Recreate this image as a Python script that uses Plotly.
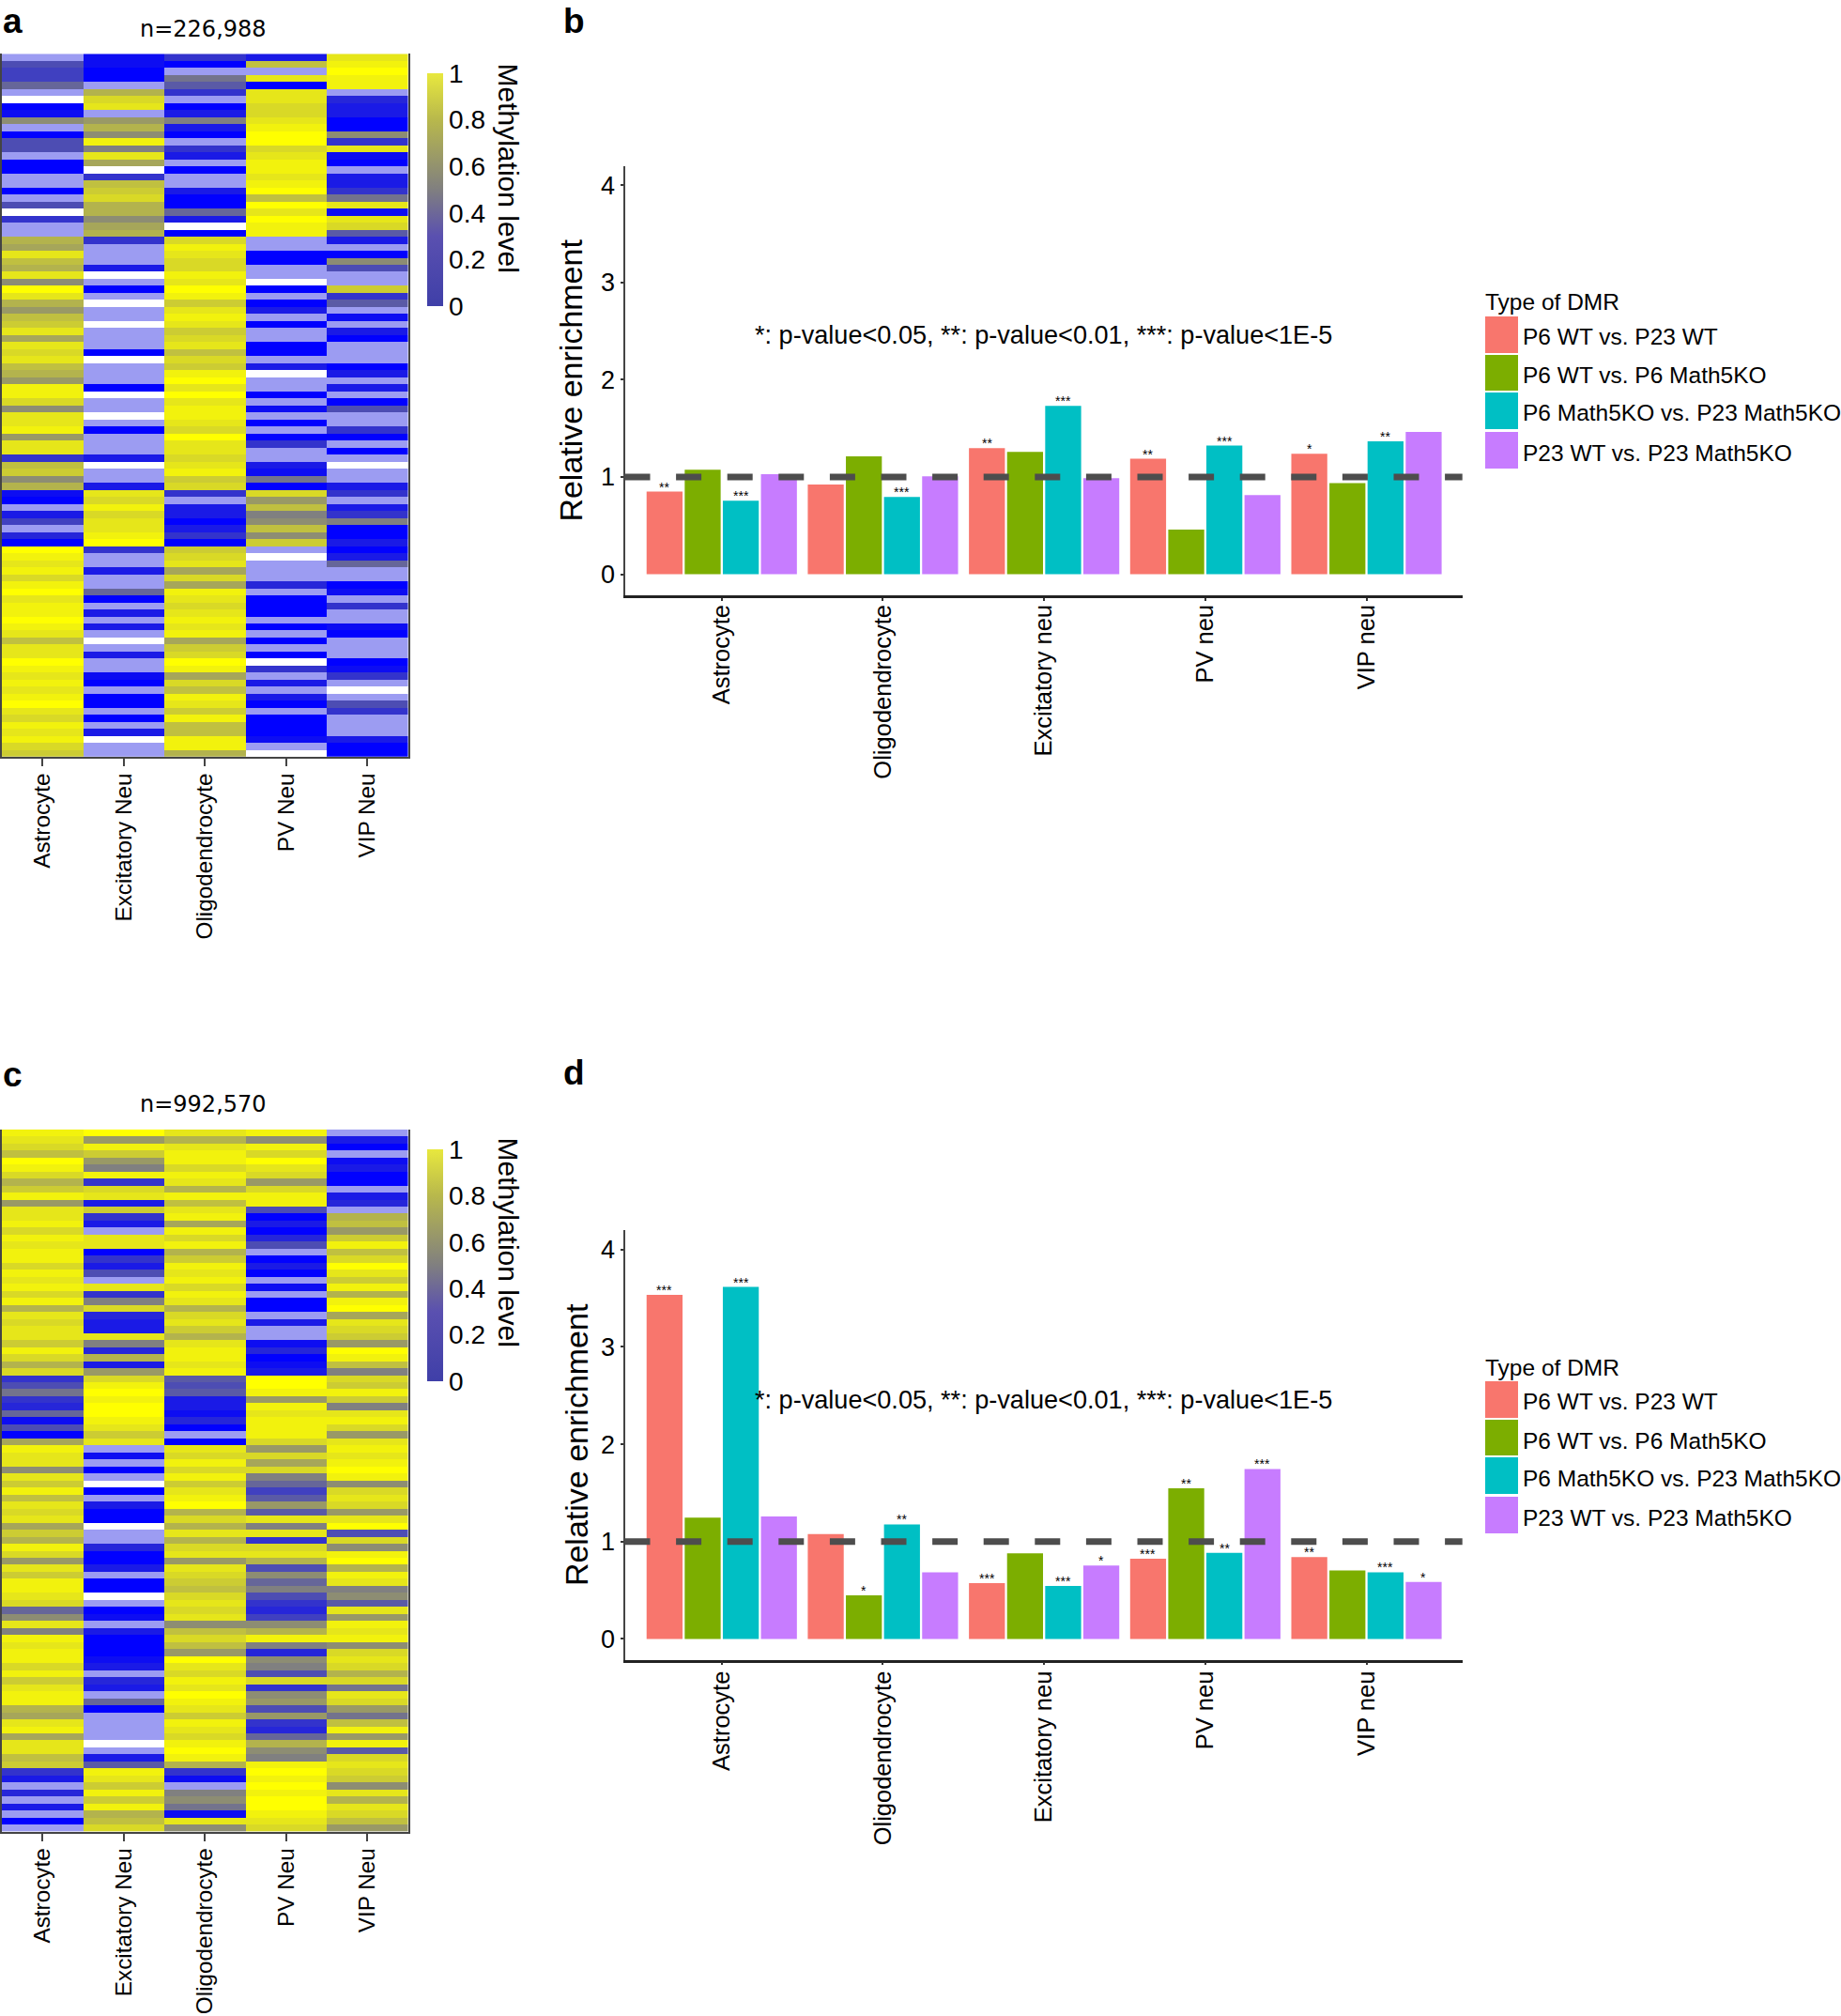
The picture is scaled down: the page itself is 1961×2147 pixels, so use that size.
import plotly.graph_objects as go

W, H = 1961, 2147
FONT = "Liberation Sans"

N = None   # unmeasured rows, drawn white
P = -0.2   # pale rows, thinly covered

heat_cells = ["Astrocyte", "Excitatory Neu", "Oligodendrocyte", "PV Neu", "VIP Neu"]
bar_cells = ["Astrocyte", "Oligodendrocyte", "Excitatory neu", "PV neu", "VIP neu"]
dmr_types = ["P6 WT vs. P23 WT", "P6 WT vs. P6 Math5KO", "P6 Math5KO vs. P23 Math5KO", "P23 WT vs. P23 Math5KO"]
dmr_colors = ["#F8766D", "#7CAE00", "#00BFC4", "#C77CFF"]
cbar_ticks = [0, 0.2, 0.4, 0.6, 0.8, 1]
cbar_labels = ["0", "0.2", "0.4", "0.6", "0.8", "1"]
p_note = "*: p-value<0.05, **: p-value<0.01, ***: p-value<1E-5"

# enrichment per DMR type, in the order of bar_cells
b_p6wt_p23wt = [0.85, 0.923, 1.297, 1.187, 1.239]
b_p6wt_p6ko = [1.075, 1.213, 1.258, 0.46, 0.936]
b_p6ko_p23ko = [0.756, 0.795, 1.73, 1.322, 1.367]
b_p23wt_p23ko = [1.03, 1.007, 0.988, 0.814, 1.464]
b_stars = [["**", "", "**", "**", "*"],
           ["", "", "", "", ""],
           ["***", "***", "***", "***", "**"],
           ["", "", "", "", ""]]

d_p6wt_p23wt = [3.534, 1.078, 0.573, 0.823, 0.84]
d_p6wt_p6ko = [1.246, 0.448, 0.879, 1.547, 0.703]
d_p6ko_p23ko = [3.616, 1.177, 0.543, 0.884, 0.685]
d_p23wt_p23ko = [1.259, 0.685, 0.754, 1.746, 0.586]
d_stars = [["***", "", "***", "***", "**"],
           ["", "*", "", "**", ""],
           ["***", "**", "***", "**", "***"],
           ["", "", "*", "***", "*"]]

# methylation per row: Astrocyte, Excitatory, Oligodendrocyte, PV, VIP
a_rows = [
    [P, .05, .2, .1, .9], [.3, .05, 0, .75, .95], [.25, 0, P, P, 1], [.25, 0, .45, .9, .95], [.4, P, .35, 0, .95],
    [P, .7, .2, .9, P], [N, .85, P, .9, .15], [0, .9, 0, .85, .1], [.05, P, .1, .85, .1], [.55, .6, .5, .9, 0],
    [P, .7, .1, .95, 0], [0, .55, 0, 1, .55], [.3, .95, P, 1, .2], [.3, .5, .2, .85, .9], [P, .9, .1, .9, .05],
    [0, .65, P, .95, 0], [0, N, 0, .95, P], [P, .2, P, .9, .1], [P, .75, P, .95, .1], [0, .8, .1, 1, .2],
    [P, .85, 0, .75, .45], [.3, .7, 0, 1, .9], [N, .7, .4, .9, .05], [.2, .55, .1, 1, .9], [P, .65, N, .95, .85],
    [P, .7, 0, .95, .35], [.7, .2, .85, P, .1], [.65, P, .95, P, P], [.9, P, .9, 0, 0], [.75, P, .85, 0, .55],
    [.7, .1, .85, P, .3], [.9, N, .95, P, P], [.55, P, .9, N, P], [1, 0, 1, 0, .8], [.9, P, .95, P, .2],
    [.7, N, .8, 0, .35], [.6, P, .9, .1, P], [.75, P, .95, P, .05], [.8, N, .9, 0, P], [.9, P, .8, P, .1],
    [.65, P, .85, P, 0], [.9, P, .9, 0, P], [.85, 0, .75, 0, P], [.9, N, .85, P, P], [.75, P, .8, .1, 0],
    [.7, P, .95, N, .1], [.6, P, 1, P, P], [.95, 0, .9, P, .1], [.95, N, 1, 0, P], [.85, P, .9, P, 0],
    [.55, P, .95, .05, .3], [.9, N, .95, P, P], [.9, P, .9, 0, P], [.95, 0, .85, P, .2], [.6, P, 1, 0, 0],
    [.9, P, .9, .2, P], [.9, P, .9, P, 0], [.2, .1, .85, P, P], [.75, N, .9, .1, N], [.8, P, .95, .05, P],
    [.55, P, .8, .45, P], [.7, .1, .85, 0, .1], [.05, .9, .2, .85, .2], [0, .85, P, .6, P], [P, .95, .1, .75, .1],
    [.1, .85, .1, .5, .2], [.25, .9, 0, .55, .5], [P, .9, .1, .75, 0], [.15, .95, .2, .55, 0], [0, 1, 0, .8, .1],
    [1, .2, .8, P, 0], [.95, P, .85, N, .1], [.9, P, .9, P, .4], [.95, .1, .65, P, P], [.85, P, .85, P, P],
    [.95, P, .65, .15, 0], [1, .4, .95, P, .05], [.9, 0, .9, 0, P], [.95, P, .85, 0, .2], [.95, .1, .9, 0, P],
    [1, P, .95, P, P], [.95, .1, .9, 0, .05], [.9, P, .95, P, 0], [.75, N, .65, 0, P], [.9, P, .8, P, P],
    [.9, .1, .85, 0, P], [1, P, 1, N, 0], [.95, P, .95, .2, .05], [.9, .05, .65, P, .2], [.95, 0, .85, .1, P],
    [.9, P, .75, P, N], [.95, 0, .95, .1, P], [1, 0, .9, 0, .3], [.9, P, .8, P, .2], [.85, 0, .95, 0, P],
    [.95, P, .75, 0, P], [.9, .1, .75, 0, P], [.95, N, .95, .05, .1], [.85, P, .95, P, 0], [.8, P, .7, N, 0],
]

c_rows = [
    [.95, 1, .9, .95, P], [.9, .6, .7, .55, .1], [.85, .95, .9, .95, 0], [.75, .8, .95, .85, P], [1, .6, .95, 1, .05],
    [.95, .5, .85, .9, .1], [.85, .95, .95, .85, 0], [.7, .2, .9, .6, 0], [.8, .85, .7, .85, P], [.95, .9, .95, .95, .1],
    [.6, .1, .75, .95, .15], [.9, .8, .9, .3, P], [.9, .2, .95, 0, .7], [.95, .1, .65, .1, .75], [.85, P, .95, 0, .6],
    [.95, .9, .85, .15, .8], [.9, .9, .95, .3, .95], [.95, 0, .7, P, .75], [.95, .2, .8, 0, .85], [.85, .1, .95, .1, 1],
    [.95, .3, .9, 0, .9], [.9, P, .95, P, .8], [.95, .9, .85, .05, .95], [.85, .2, .95, P, .7], [.95, .5, .9, 0, .95],
    [.7, .85, .7, 0, 1], [.9, .15, .85, P, .65], [.85, .1, .9, .1, .9], [.9, .1, .8, P, .85], [.9, .9, .7, P, .8],
    [.8, .5, .9, .05, .6], [.95, .15, .95, .15, 1], [.85, .7, .95, 0, .95], [.7, .1, .9, .05, .75], [.85, .6, .95, .1, .5],
    [.2, .85, .35, 1, .85], [.3, .95, .3, 1, .8], [.45, 1, .35, .95, .95], [.2, .95, .1, .6, .8], [.15, 1, .1, .95, .5],
    [.4, 1, .05, .9, .9], [.05, .95, .15, .95, .95], [.3, .9, 0, .95, .85], [0, .8, P, .95, .6], [.65, .9, 0, .85, .9],
    [.95, P, .9, .6, .95], [.9, .05, .85, .85, .9], [.9, P, .95, .65, .95], [.55, 0, .85, .85, 1], [.9, P, .95, .5, .95],
    [.8, N, .8, .4, .55], [.95, 0, .9, .25, .85], [.75, P, .95, .35, .9], [.9, .1, 1, .6, .85], [.85, 0, .7, .35, .6],
    [.9, 0, .85, .9, .9], [.65, N, .7, .5, 1], [.8, P, .9, .9, .3], [.7, P, .7, .2, .85], [.95, .15, .85, .85, .55],
    [.85, 0, .9, .9, .95], [.6, 0, .6, .7, 1], [.9, .1, .9, .3, .7], [.8, P, .85, .55, .95], [.95, 0, .8, .4, .9],
    [.95, 0, .75, .5, .5], [.9, N, .85, .3, .55], [.85, P, .9, .2, .35], [.4, 0, .85, .15, .9], [.55, .05, .9, .25, .6],
    [.9, P, .55, .55, .95], [.5, .1, .75, .7, .9], [.95, 0, .85, .95, .95], [.9, 0, .75, .5, .55], [.95, 0, .6, .15, .85],
    [.95, .05, 1, .55, .9], [.85, .1, .9, .5, .85], [.95, P, .85, .3, .7], [.8, .15, .95, .85, .85], [.9, .1, .9, .2, .45],
    [.95, P, 1, .55, .9], [.95, .4, .95, .6, .85], [.7, 0, .9, .3, .6], [.65, P, .8, .6, .45], [.9, P, .95, .2, .75],
    [.95, P, .9, .15, .95], [.65, P, .85, .4, .6], [.9, N, .95, .7, .95], [.9, P, 1, .55, .35], [.75, .1, .95, .5, .85],
    [.8, .35, .7, .95, .9], [.2, .95, .2, 1, .85], [.1, .9, .05, .95, .8], [P, .8, P, 1, .55], [.15, .95, .5, .95, .9],
    [P, .8, .55, 1, .7], [.1, .95, .45, 1, .9], [P, .7, .05, .95, .85], [0, .75, .9, .9, .75], [P, .85, .55, .85, .6],
]

HEAT_SCALE = [[0, "#9c9cf2"], [0.16, "#9c9cf2"], [0.1667, "#0000ff"], [0.5833, "#808080"], [1, "#ffff00"]]
CBAR_SCALE = [[0, "#3f3fa8"], [0.3, "#5a50b0"], [0.5, "#807f80"], [0.8, "#b8b84c"], [1, "#e8e83e"]]


def fx(x):
    return x / W


def fy(y):
    return 1 - y / H


def dom_y(top, bottom):
    return [fy(bottom), fy(top)]


fig = go.Figure()
annotations = []
shapes = []


def text(x, y, s, size, xanchor="center", yanchor="middle", angle=0, family=FONT):
    annotations.append(dict(x=fx(x), y=fy(y), xref="paper", yref="paper", text=s, showarrow=False,
                            xanchor=xanchor, yanchor=yanchor, textangle=angle,
                            font=dict(family=family, size=size, color="black")))


def heat_panel(idx, rows, top, bottom, title, cb_top, cb_bot, title_y, cbt_y):
    sfx = "" if idx == 1 else str(idx)
    fig.add_trace(go.Heatmap(z=rows, x=heat_cells, xaxis="x" + sfx, yaxis="y" + sfx, zmin=-0.2, zmax=1,
                             colorscale=HEAT_SCALE, showscale=False, hoverongaps=False))
    fig.add_trace(go.Scatter(x=[None, None], y=[None, None], mode="markers", xaxis="x" + sfx, yaxis="y" + sfx,
                             showlegend=False, hoverinfo="skip",
                             marker=dict(color=[0, 1], cmin=0, cmax=1, colorscale=CBAR_SCALE, showscale=True,
                                         colorbar=dict(x=fx(455), xanchor="left", y=fy((cb_top + cb_bot) / 2),
                                                       yanchor="middle", len=cb_bot - cb_top, lenmode="pixels",
                                                       thickness=17, thicknessmode="pixels", xpad=0, ypad=0,
                                                       outlinewidth=0, ticks="", tickvals=cbar_ticks,
                                                       ticktext=cbar_labels,
                                                       tickfont=dict(family=FONT, size=28, color="black")))))
    fig.update_layout({
        "xaxis" + sfx: dict(domain=[fx(2), fx(434.5)], anchor="y" + sfx, type="category", range=[-0.5, 4.5],
                            tickangle=-90, ticks="outside", ticklen=8, tickwidth=1.5, tickcolor="#444",
                            showline=True, linecolor="#444", linewidth=2, showgrid=False, zeroline=False,
                            automargin=False, ticklabelstandoff=-2,
                            tickfont=dict(family=FONT, size=24.3, color="black")),
        "yaxis" + sfx: dict(domain=dom_y(top, bottom), anchor="x" + sfx, autorange=False, automargin=False,
                            range=[len(rows) - 0.5, -0.5], showticklabels=False, ticks="", showgrid=False,
                            zeroline=False, showline=True, mirror=True, linecolor="#444", linewidth=1.5),
    })
    text(216, title_y, title, 24, family="DejaVu Sans")
    text(cbt_y[0], cbt_y[1], "Methylation level", 30, angle=90)


def bar_panel(idx, series, stars, top, bottom, ymin, ymax, standoff, dy, lab_off):
    sfx = str(idx)
    for j, (name, vals, col, st) in enumerate(zip(dmr_types, series, dmr_colors, stars)):
        fig.add_trace(go.Bar(x=bar_cells, y=vals, name=name, marker=dict(color=col, line=dict(width=0)),
                             xaxis="x" + sfx, yaxis="y" + sfx, showlegend=False))
        for cat, v, s in zip(bar_cells, vals, st):
            if s:
                annotations.append(dict(x=cat, y=v, xref="x" + sfx, yref="y" + sfx, text=s, showarrow=False,
                                        xanchor="center", yanchor="middle", xshift=(j - 1.5) * 40.6, yshift=5,
                                        font=dict(family=FONT, size=14, color="black")))
    fig.update_layout({
        "xaxis" + sfx: dict(domain=[fx(665.5), fx(1557.7)], anchor="y" + sfx, type="category", range=[-0.6016, 4.595],
                            tickangle=-90, ticks="outside", ticklen=3, tickwidth=1.5, tickcolor="#333",
                            showline=True, linecolor="#222", linewidth=2.5, showgrid=False, zeroline=False,
                            ticklabelstandoff=lab_off, automargin=False,
                            tickfont=dict(family=FONT, size=25.5, color="black")),
        "yaxis" + sfx: dict(domain=dom_y(top, bottom), anchor="x" + sfx, range=[ymin, ymax], automargin=False,
                            tickvals=[0, 1, 2, 3, 4], ticks="outside", ticklen=3, tickwidth=1.5, tickcolor="#333",
                            showline=True, linecolor="#444", linewidth=2, showgrid=False, zeroline=False,
                            tickfont=dict(family=FONT, size=27, color="black"),
                            title=dict(text="Relative enrichment", standoff=standoff,
                                       font=dict(family=FONT, size=34, color="black"))),
    })
    shapes.append(dict(type="line", xref="x%s domain" % sfx, yref="y" + sfx, x0=0, x1=1, y0=1, y1=1, layer="above",
                       line=dict(color="#4d4d4d", width=7, dash="27px,27.6px")))
    text(1111, 356 + dy, p_note, 27.1)
    text(1580, 322 + dy, "Type of DMR", 24.5, xanchor="left")
    swatches = [(337, 376, 358), (378, 416, 400), (418, 457, 440), (460, 499, 482)]
    for (y0, y1, ym), col, name in zip(swatches, dmr_colors, dmr_types):
        shapes.append(dict(type="rect", xref="paper", yref="paper", x0=fx(1582), x1=fx(1617),
                           y0=fy(y1 + dy), y1=fy(y0 + dy), fillcolor=col, line=dict(width=0)))
        text(1620, ym + dy, name, 24.5, xanchor="left")


heat_panel(1, a_rows, 57.3, 805.8, "n=226,988", 78, 326, 31, (541.5, 179))
bar_panel(2, [b_p6wt_p23wt, b_p6wt_p6ko, b_p6ko_p23ko, b_p23wt_p23ko], b_stars, 176.7, 634, -0.216, 4.197, 9, 0, -6)
heat_panel(3, c_rows, 1202.7, 1950.5, "n=992,570", 1224, 1471, 1176, (541.5, 1323))
bar_panel(4, [d_p6wt_p23wt, d_p6wt_p6ko, d_p6ko_p23ko, d_p23wt_p23ko], d_stars, 1310, 1767.7, -0.215, 4.2, 3, 1134, -4)

for lab, x, y in [("a", 1, 0), ("b", 598, 0), ("c", 1, 1122), ("d", 598, 1120)]:
    text(x, y, "<b>%s</b>" % lab, 37, xanchor="left", yanchor="top")

fig.update_layout(width=W, height=H, autosize=False, margin=dict(l=0, r=0, t=0, b=0, pad=0),
                  paper_bgcolor="white", plot_bgcolor="white", barmode="group", bargap=0.054, bargroupgap=0.057,
                  showlegend=False, annotations=annotations, shapes=shapes,
                  font=dict(family=FONT, color="black"))

fig.write_html("out.html", config={"displayModeBar": False},
               post_script="document.body.style.margin='0';document.documentElement.style.overflow='hidden';")
